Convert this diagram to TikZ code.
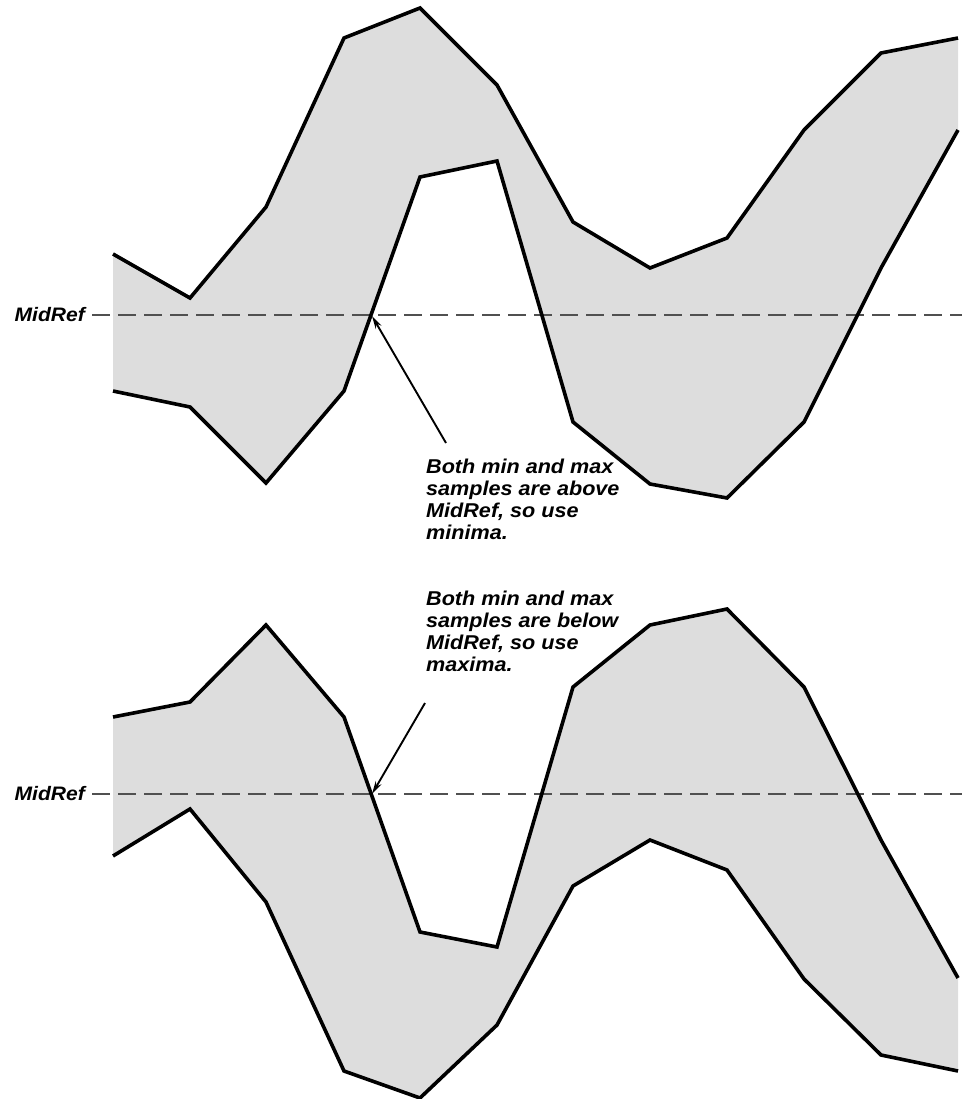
\documentclass[tikz,border=0pt]{standalone}
\usepackage{fontspec}
\newfontfamily\labfont[FakeStretch=1.08]{Liberation Sans}
\usetikzlibrary{arrows.meta}
\definecolor{bandgray}{RGB}{221,221,221}
\definecolor{dashgray}{RGB}{80,80,80}
\begin{document}
\begin{tikzpicture}[x=1pt,y=-1pt,
  band/.style={fill=bandgray,draw=none},
  curve/.style={draw=black,line width=3.6pt,line join=miter},
  midline/.style={draw=dashgray,line width=1.2pt,dash pattern=on 18pt off 8pt},
  note/.style={font=\labfont\bfseries\itshape\fontsize{20}{22}\selectfont,align=left,inner sep=0pt,anchor=north west},
  reflabel/.style={font=\labfont\bfseries\itshape\fontsize{19.5}{21}\selectfont,inner sep=0pt,anchor=base east},
  pointer/.style={draw=black,line width=1.9pt,-{Stealth[length=13pt,width=6.5pt]}}]
\useasboundingbox (0,0) rectangle (962,1099);
% ---------- top panel ----------
\fill[band] (113,254) -- (190,298) -- (266,207) -- (344,38) -- (420,8) -- (497,85) -- (573,222) -- (650,268) -- (727,238) -- (804,130) -- (881,53) -- (958,38)
  -- (958,130) -- (881,268) -- (804,422) -- (727,498) -- (650,484) -- (573,422) -- (497,161) -- (420,177) -- (344,391) -- (266,483) -- (190,407) -- (113,391) -- cycle;
\coordinate (m1a) at (92,315);
\coordinate (m1b) at (962,315);
\draw[midline] (m1a) -- (m1b);
\draw[curve] (113,254) -- (190,298) -- (266,207) -- (344,38) -- (420,8) -- (497,85) -- (573,222) -- (650,268) -- (727,238) -- (804,130) -- (881,53) -- (958,38);
\draw[curve] (113,391) -- (190,407) -- (266,483) -- (344,391) -- (420,177) -- (497,161) -- (573,422) -- (650,484) -- (727,498) -- (804,422) -- (881,268) -- (958,130);
\node[reflabel] (r1) at (85,321) {MidRef};
\node[note] (t1) at (426,459) {Both min and max\\samples are above\\MidRef, so use\\minima.};
\coordinate (p1s) at (446,443);
\coordinate (p1e) at (372,316);
\draw[pointer] (p1s) -- (p1e);
% ---------- bottom panel ----------
\fill[band] (113,717) -- (190,702) -- (266,625) -- (344,717) -- (420,932) -- (497,947) -- (573,687) -- (650,625) -- (727,609) -- (804,687) -- (881,840) -- (958,978)
  -- (958,1071) -- (881,1055) -- (804,979) -- (727,870) -- (650,840) -- (573,886) -- (497,1025) -- (420,1098) -- (344,1071) -- (266,902) -- (190,809) -- (113,856) -- cycle;
\coordinate (m2a) at (92,794);
\coordinate (m2b) at (962,794);
\draw[midline] (m2a) -- (m2b);
\draw[curve] (113,717) -- (190,702) -- (266,625) -- (344,717) -- (420,932) -- (497,947) -- (573,687) -- (650,625) -- (727,609) -- (804,687) -- (881,840) -- (958,978);
\draw[curve] (113,856) -- (190,809) -- (266,902) -- (344,1071) -- (420,1098) -- (497,1025) -- (573,886) -- (650,840) -- (727,870) -- (804,979) -- (881,1055) -- (958,1071);
\node[reflabel] (r2) at (85,800) {MidRef};
\node[note] (t2) at (426,591) {Both min and max\\samples are below\\MidRef, so use\\maxima.};
\coordinate (p2s) at (425,703);
\coordinate (p2e) at (372,794);
\draw[pointer] (p2s) -- (p2e);
\end{tikzpicture}
\end{document}
